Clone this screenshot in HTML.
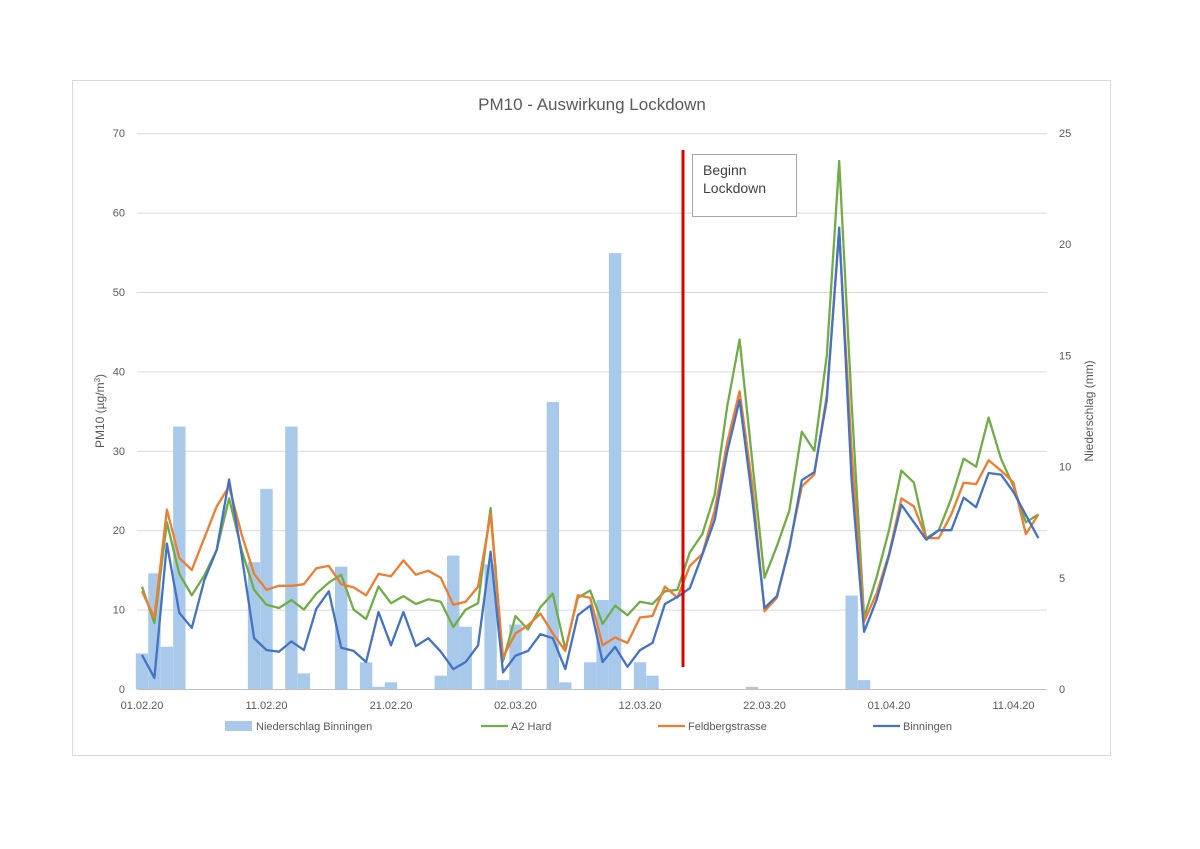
<!DOCTYPE html>
<html><head><meta charset="utf-8">
<style>
html,body{margin:0;padding:0;background:#fff;}
svg{display:block;font-family:"Liberation Sans","DejaVu Sans",sans-serif;}
</style></head>
<body>
<svg id="c" width="1200" height="849" viewBox="0 0 1200 849" xmlns="http://www.w3.org/2000/svg">
<rect x="72.5" y="80.5" width="1038" height="675" fill="#fff" stroke="#d9d9d9" stroke-width="1"/>
<text x="592" y="110" text-anchor="middle" font-size="17" fill="#595959">PM10 - Auswirkung Lockdown</text>
<g id="grid" stroke="#d9d9d9" stroke-width="1"></g>
<g id="bars" fill="#a9c9eb"></g>
<g id="lines" fill="none" stroke-width="2.3" stroke-linejoin="round"></g>
<line x1="683" y1="150" x2="683" y2="667" stroke="#e00000" stroke-width="3"/>
<rect x="692.5" y="154.5" width="104" height="62" fill="#fff" stroke="#a6a6a6" stroke-width="1"/>
<text x="703" y="175" font-size="14" fill="#404040">Beginn</text>
<text x="703" y="193" font-size="14" fill="#404040">Lockdown</text>
<g id="lab" font-size="11" fill="#595959"></g>
<text transform="translate(104,411) rotate(-90)" text-anchor="middle" font-size="12" fill="#595959">PM10 (µg/m<tspan font-size="8" dy="-4">3</tspan><tspan dy="4">)</tspan></text>
<text transform="translate(1093,411) rotate(-90)" text-anchor="middle" font-size="12" fill="#595959">Niederschlag (mm)</text>
<rect x="225" y="721" width="27" height="10" fill="#a9c9eb"/>
<text x="256" y="730" font-size="11" fill="#595959">Niederschlag Binningen</text>
<line x1="481" y1="726" x2="508" y2="726" stroke="#70ad47" stroke-width="2.3"/>
<text x="511" y="730" font-size="11" fill="#595959">A2 Hard</text>
<line x1="658" y1="726" x2="685" y2="726" stroke="#ed7d31" stroke-width="2.3"/>
<text x="688" y="730" font-size="11" fill="#595959">Feldbergstrasse</text>
<line x1="873" y1="726" x2="900" y2="726" stroke="#4472c4" stroke-width="2.3"/>
<text x="903" y="730" font-size="11" fill="#595959">Binningen</text>
</svg>
<script>
var NS="http://www.w3.org/2000/svg";
function el(p,t,a,txt){var e=document.createElementNS(NS,t);for(var k in a)e.setAttribute(k,a[k]);if(txt!==undefined)e.textContent=txt;document.getElementById(p).appendChild(e);return e;}
var x0=142,dx=12.45,y0=689,py=7.94,pr=22.24;
for(var v=0;v<=70;v+=10){var y=y0-v*py;el("grid","line",{x1:137,x2:1047,y1:y+0.5,y2:y+0.5,stroke:v==0?"#bfbfbf":"#d9d9d9"});
el("lab","text",{x:125,y:y+4,"text-anchor":"end"},String(v));}
for(var v=0;v<=25;v+=5){el("lab","text",{x:1059,y:y0-v*pr+4},String(v));}
var dl=["01.02.20","11.02.20","21.02.20","02.03.20","12.03.20","22.03.20","01.04.20","11.04.20"];
for(var i=0;i<dl.length;i++)el("lab","text",{x:x0+i*10*dx,y:709,"text-anchor":"middle"},dl[i]);
var bars={0:1.6,1:5.2,2:1.9,3:11.8,9:5.7,10:9.0,12:11.8,13:0.7,16:5.5,18:1.2,19:0.1,20:0.3,24:0.6,25:6.0,26:2.8,28:5.6,29:0.4,30:2.9,33:12.9,34:0.3,36:1.2,37:4.0,38:19.6,40:1.2,41:0.6,49:0.1,57:4.2,58:0.4};
for(var d in bars){var h=bars[d]*pr;el("bars","rect",{x:x0+d*dx-6.2,y:y0-h,width:12.4,height:h});}
var blue=[4.3,1.4,18.3,9.6,7.7,13.7,17.5,26.4,16.9,6.4,4.9,4.7,6.0,4.9,10.1,12.3,5.2,4.8,3.4,9.7,5.5,9.7,5.4,6.4,4.7,2.5,3.4,5.5,17.3,2.1,4.2,4.8,6.9,6.4,2.5,9.3,10.5,3.4,5.3,2.8,4.9,5.8,10.7,11.6,12.7,16.9,21.3,29.8,36.4,24.2,10.2,11.7,17.8,26.3,27.3,36.4,58.1,26.3,7.2,11.2,16.8,23.2,21.0,18.8,20.0,20.0,24.1,22.9,27.2,27.0,24.8,21.9,19.0];
var orange=[12.3,9.0,22.6,16.5,15.0,19.0,23.0,25.5,19.5,14.5,12.5,13.0,13.0,13.2,15.2,15.5,13.2,12.8,11.8,14.5,14.2,16.2,14.4,14.9,14.0,10.6,11.0,12.9,22.0,4.0,7.0,8.0,9.5,7.0,4.8,11.8,11.5,5.5,6.5,5.8,9.0,9.2,12.9,11.5,15.5,17.0,22.5,31.0,37.5,26.0,9.8,11.5,18.0,25.5,27.0,37.0,57.5,30.0,8.5,12.0,17.0,24.0,23.0,19.0,19.0,22.0,26.0,25.8,28.8,27.5,26.0,19.5,22.0];
var green=[12.9,8.3,21.0,14.5,11.8,14.3,17.5,24.0,17.5,12.5,10.6,10.2,11.2,10.0,12.0,13.4,14.4,10.0,8.8,12.9,10.8,11.7,10.7,11.3,11.0,7.8,10.0,10.8,22.8,3.5,9.2,7.5,10.3,12.0,5.0,11.5,12.4,8.2,10.5,9.3,11.0,10.7,12.3,12.5,17.2,19.5,24.5,35.5,44.0,29.0,14.0,18.0,22.5,32.4,30.0,42.0,66.5,36.0,9.0,14.0,20.0,27.5,26.0,19.0,20.0,24.0,29.0,28.0,34.2,29.0,25.5,21.0,22.0];
function pl(a,c){var p=a.map(function(v,i){return (x0+i*dx).toFixed(1)+","+(y0-v*py).toFixed(1);}).join(" ");el("lines","polyline",{points:p,stroke:c});}
pl(green,"#70ad47");pl(orange,"#ed7d31");pl(blue,"#4472c4");
</script>
</body></html>
